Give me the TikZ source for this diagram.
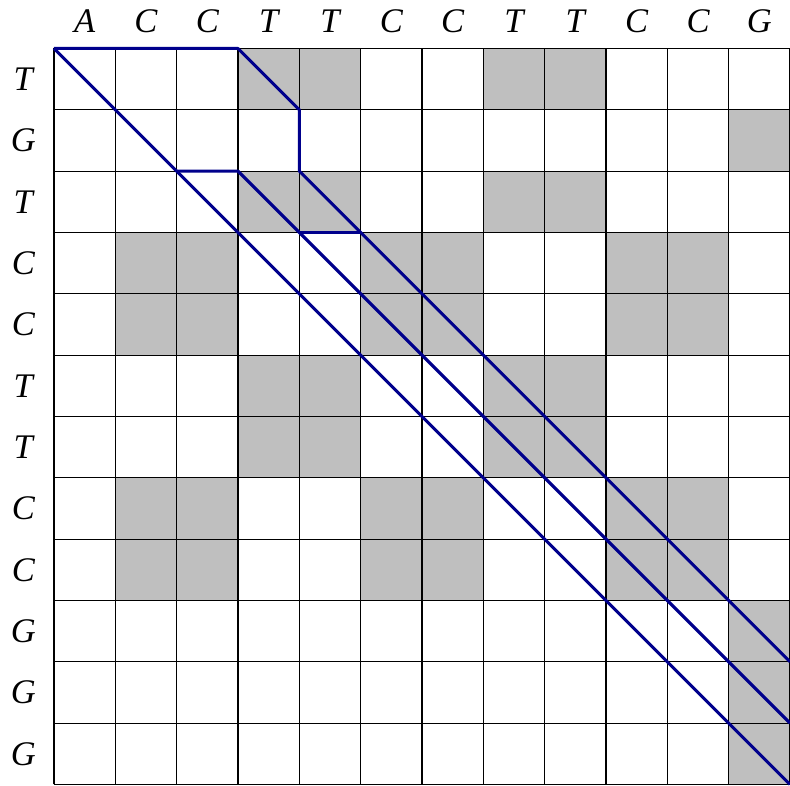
\documentclass[tikz,border=0pt]{standalone}
\usepackage{fontspec}
\setmainfont{Liberation Serif}
\usetikzlibrary{positioning}
\definecolor{pathblue}{RGB}{0,0,140}
\tikzset{
  seqlabel/.style={font=\fontsize{16}{19}\selectfont\itshape,inner sep=0pt},
  matchcell/.style={fill=black!25},
  gridline/.style={line width=0.5pt},
  alignpath/.style={pathblue,line width=1.4pt,line join=round}
}
\begin{document}
\begin{tikzpicture}[x=1.0cm,y=-1.0cm]
  \useasboundingbox (-0.88,-0.79) rectangle (12.0,12.01);
  % shaded cells where the two sequences agree
  \foreach \r [count=\j from 0] in {T,G,T,C,C,T,T,C,C,G,G,G}{
    \foreach \c [count=\i from 0] in {A,C,C,T,T,C,C,T,T,C,C,G}{
      \ifx\r\c \fill[matchcell] (\i,\j) rectangle ++(1,1); \fi
    }
  }
  \draw[gridline] (0,0) grid (12,12);
  \foreach \c [count=\i from 0] in {A,C,C,T,T,C,C,T,T,C,C,G}
    \node[seqlabel] (col\i) at (\i+0.5,-0.45) {\c};
  \foreach \r [count=\j from 0] in {T,G,T,C,C,T,T,C,C,G,G,G}
    \node[seqlabel] (row\j) at (-0.5,\j+0.5) {\r};
  % alignment paths
  \draw[alignpath] (0,0) -- (12,12);
  \draw[alignpath] (0,0) -- (3,0) -- (4,1) -- (4,2) -- (12,10);
  \draw[alignpath] (2,2) -- (3,2) -- (4,3) -- (12,11);
  \draw[alignpath] (4,3) -- (5,3);
\end{tikzpicture}
\end{document}
